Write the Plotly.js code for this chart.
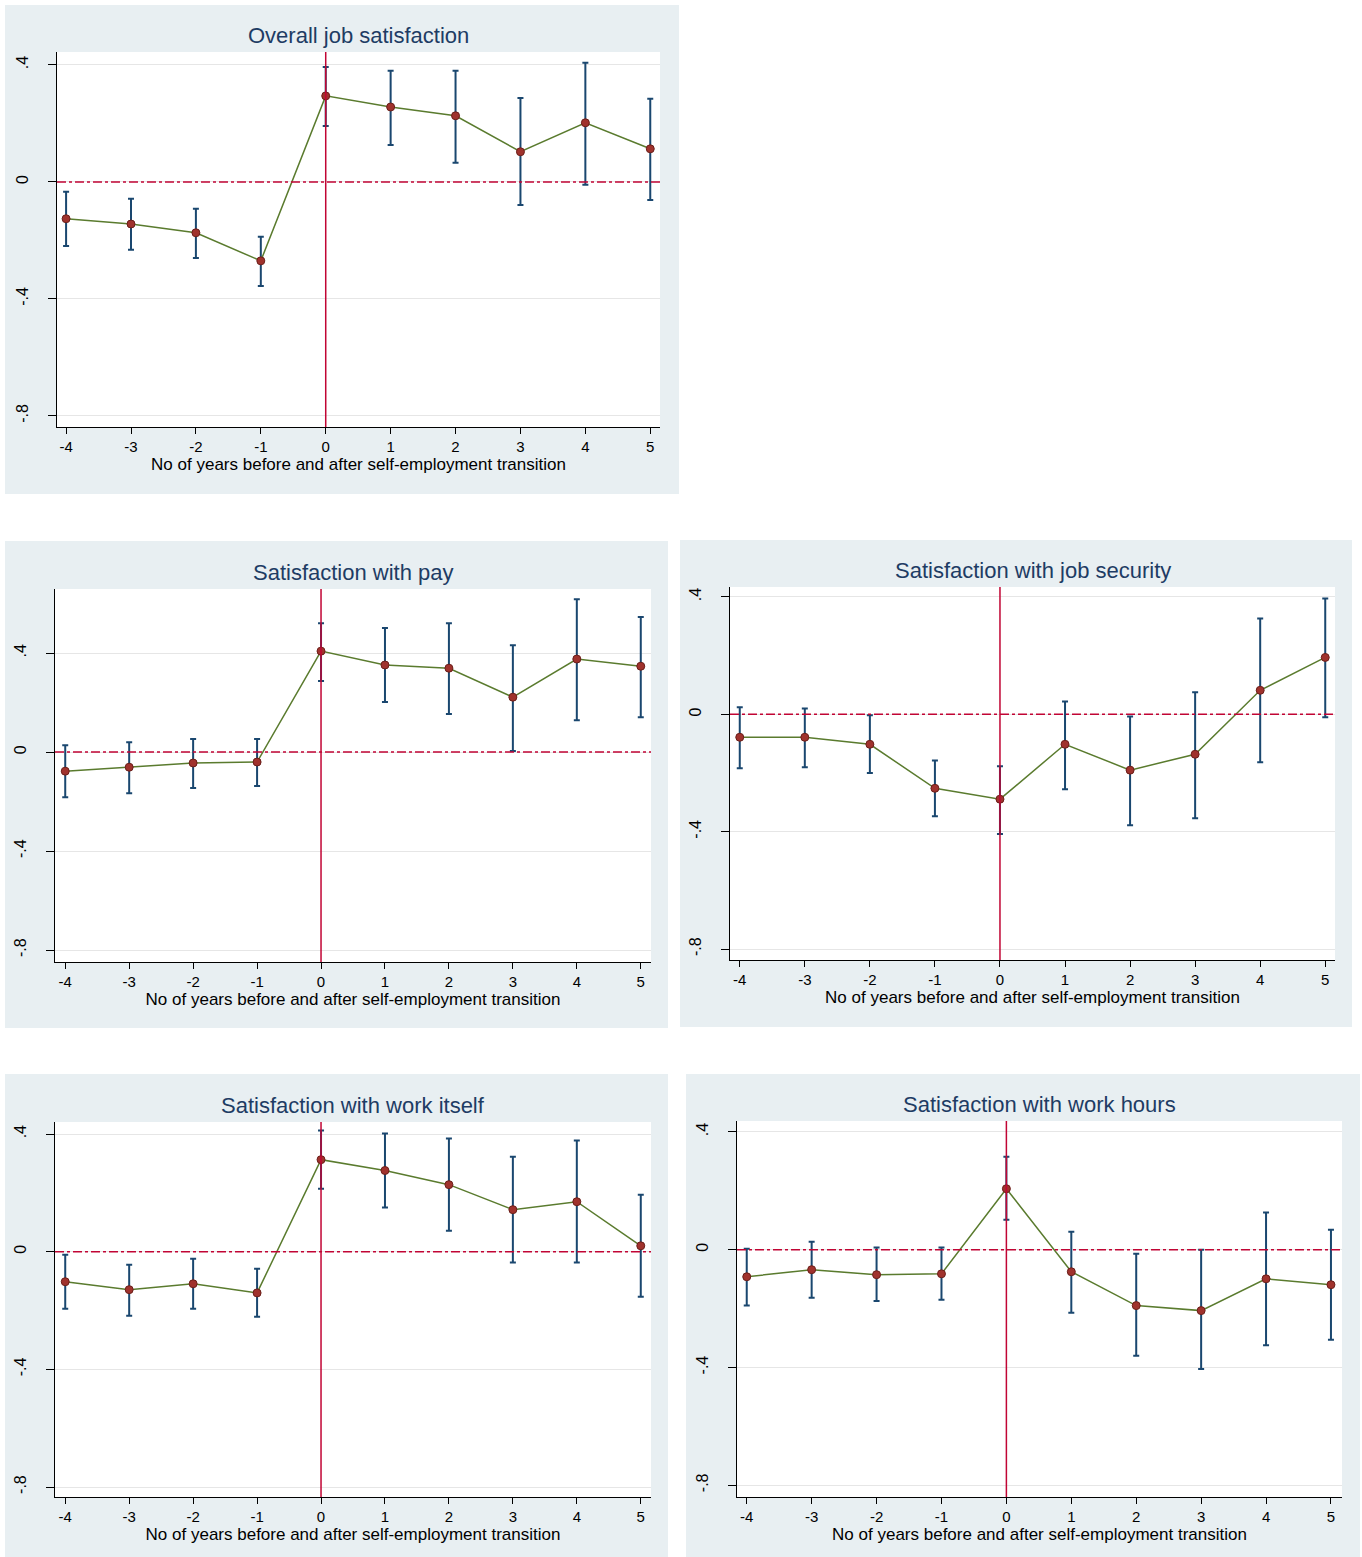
<!DOCTYPE html>
<html>
<head>
<meta charset="utf-8">
<script src="https://cdn.plot.ly/plotly-3.0.1.min.js"></script>
<style>body{margin:0;background:#fff}#chart{width:1362px;height:1557px}</style>
</head>
<body>
<div id="chart"></div>
<script>
const years = [-4, -3, -2, -1, 0, 1, 2, 3, 4, 5];
const yearLabels = ["-4", "-3", "-2", "-1", "0", "1", "2", "3", "4", "5"];
const titles = ["Overall job satisfaction", "Satisfaction with pay", "Satisfaction with job security",
                "Satisfaction with work itself", "Satisfaction with work hours"];
const xLabel = "No of years before and after self-employment transition";
const yTickVals = [0.4, 0, -0.4, -0.8];
const yTickText = [".4", "0", "-.4", "-.8"];

// point estimates
const overall  = [-0.126, -0.144, -0.174, -0.270, 0.294, 0.256, 0.226, 0.103, 0.202, 0.113];
const pay      = [-0.077, -0.061, -0.044, -0.040, 0.408, 0.352, 0.339, 0.222, 0.376, 0.347];
const security = [-0.078, -0.078, -0.102, -0.252, -0.289, -0.102, -0.190, -0.136, 0.082, 0.194];
const work     = [-0.102, -0.129, -0.109, -0.140, 0.313, 0.276, 0.228, 0.143, 0.170, 0.020];
const hours    = [-0.092, -0.068, -0.085, -0.082, 0.207, -0.075, -0.190, -0.207, -0.099, -0.119];

// confidence interval upper / lower bounds
const overallHi  = [-0.034, -0.058, -0.092, -0.188, 0.393, 0.380, 0.380, 0.287, 0.407, 0.284];
const overallLo  = [-0.219, -0.232, -0.260, -0.356, 0.191, 0.126, 0.065, -0.079, -0.010, -0.062];
const payHi      = [0.028, 0.040, 0.053, 0.053, 0.521, 0.501, 0.521, 0.432, 0.618, 0.546];
const payLo      = [-0.182, -0.166, -0.145, -0.137, 0.287, 0.202, 0.154, 0.004, 0.129, 0.141];
const securityHi = [0.024, 0.020, -0.003, -0.157, -0.177, 0.044, -0.007, 0.075, 0.327, 0.395];
const securityLo = [-0.184, -0.180, -0.200, -0.347, -0.408, -0.255, -0.378, -0.354, -0.163, -0.010];
const workHi     = [-0.010, -0.044, -0.024, -0.058, 0.412, 0.402, 0.385, 0.323, 0.378, 0.194];
const workLo     = [-0.194, -0.218, -0.194, -0.221, 0.214, 0.150, 0.071, -0.037, -0.037, -0.153];
const hoursHi    = [0.003, 0.027, 0.007, 0.007, 0.316, 0.061, -0.014, 0.000, 0.126, 0.068];
const hoursLo    = [-0.190, -0.163, -0.174, -0.170, 0.102, -0.214, -0.360, -0.405, -0.325, -0.306];

const series = [[overall, overallHi, overallLo], [pay, payHi, payLo], [security, securityHi, securityLo],
                [work, workHi, workLo], [hours, hoursHi, hoursLo]];

// panel geometry in pixels: plot area [x0,x1,y0,y1], background box [x0,x1,y0,y1], ranges
const W = 1362, H = 1557;
const panels = [
  {plot: [57, 660, 52, 427],   box: [5, 679, 5, 494],      xr: [-4.14, 5.15], yr: [-0.838, 0.444]},
  {plot: [55, 651, 589, 962],  box: [5, 668, 541, 1028],   xr: [-4.16, 5.16], yr: [-0.848, 0.659]},
  {plot: [730, 1335, 587, 960], box: [680, 1352, 540, 1027], xr: [-4.15, 5.15], yr: [-0.837, 0.434]},
  {plot: [55, 651, 1122, 1497], box: [5, 668, 1074, 1557], xr: [-4.16, 5.16], yr: [-0.834, 0.441]},
  {plot: [737, 1342, 1121, 1497], box: [686, 1360, 1074, 1557], xr: [-4.15, 5.17], yr: [-0.840, 0.437]}
];

const traces = [];
const layout = {
  width: W, height: H, margin: {l: 0, r: 0, t: 0, b: 0},
  paper_bgcolor: "#ffffff", plot_bgcolor: "#ffffff", showlegend: false,
  font: {family: "Liberation Sans, Arial, sans-serif", size: 15, color: "#000"},
  shapes: [], annotations: []
};

panels.forEach((p, i) => {
  const n = i + 1, xa = "x" + (i ? n : ""), ya = "y" + (i ? n : "");
  const [est, hi, lo] = series[i];
  traces.push({
    x: years, y: est, xaxis: xa, yaxis: ya, type: "scatter", mode: "lines+markers",
    line: {color: "#5a7b2e", width: 1.5},
    marker: {color: "#a0322d", size: 8, line: {color: "#6b1f1a", width: 1}},
    error_y: {type: "data", symmetric: false,
              array: hi.map((h, k) => h - est[k]), arrayminus: lo.map((l, k) => est[k] - l),
              color: "#1a476f", thickness: 2, width: 3}
  });
  const axX = {
    domain: [p.plot[0] / W, p.plot[1] / W], range: p.xr, anchor: ya,
    tickvals: years, ticktext: yearLabels, ticks: "outside", ticklen: 6, tickcolor: "#000",
    showgrid: false, zeroline: false, showline: true, linecolor: "#000", linewidth: 1,
    tickfont: {size: 15}, title: {text: xLabel, font: {size: 17}, standoff: 0}
  };
  const axY = {
    domain: [1 - p.plot[3] / H, 1 - p.plot[2] / H], range: p.yr, anchor: xa,
    tickvals: yTickVals, ticktext: yTickText, tickangle: -90, ticks: "outside", ticklen: 8,
    ticklabelstandoff: 14,
    tickcolor: "#000", showgrid: true, gridcolor: "#e6e6e6", zeroline: false,
    showline: true, linecolor: "#000", linewidth: 1, tickfont: {size: 16}
  };
  layout["xaxis" + (i ? n : "")] = axX;
  layout["yaxis" + (i ? n : "")] = axY;
  layout.shapes.push({type: "rect", xref: "paper", yref: "paper", layer: "below",
    x0: p.box[0] / W, x1: p.box[1] / W, y0: 1 - p.box[3] / H, y1: 1 - p.box[2] / H,
    fillcolor: "#e8eff2", line: {width: 0}});
  layout.shapes.push({type: "rect", xref: "paper", yref: "paper", layer: "below",
    x0: p.plot[0] / W, x1: p.plot[1] / W, y0: 1 - p.plot[3] / H, y1: 1 - p.plot[2] / H,
    fillcolor: "#ffffff", line: {width: 0}});
  layout.shapes.push({type: "line", xref: xa, yref: ya + " domain", x0: 0, x1: 0, y0: 0, y1: 1,
    line: {color: "#c10534", width: 1.5}});
  layout.shapes.push({type: "line", xref: xa + " domain", yref: ya, x0: 0, x1: 1, y0: 0, y1: 0,
    line: {color: "#c10534", width: 1.5, dash: "dashdot"}});
  layout.annotations.push({text: titles[i], xref: "paper", yref: "paper", showarrow: false,
    x: (p.plot[0] + p.plot[1]) / 2 / W, xanchor: "center", y: 1 - (p.plot[2] - 2) / H, yanchor: "bottom",
    font: {size: 22, color: "#1e3c64"}});
});

Plotly.newPlot("chart", traces, layout, {staticPlot: true});
</script>
</body>
</html>
